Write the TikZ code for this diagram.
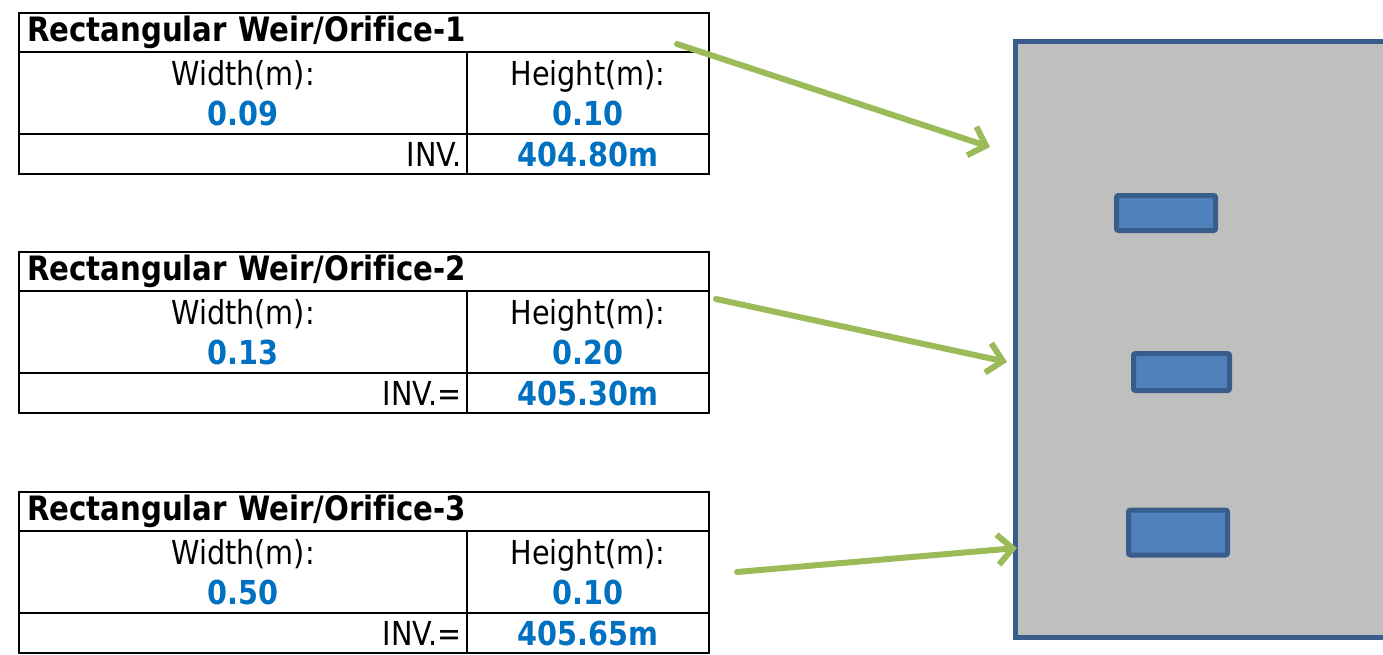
\documentclass[tikz,border=0pt]{standalone}
\usepackage{fontspec}
\setmainfont{DejaVu Sans}[FakeStretch=0.87, Ligatures=NoCommon]
\usetikzlibrary{arrows.meta,positioning}
\definecolor{valBlue}{RGB}{0,112,192}
\definecolor{plateGray}{RGB}{191,191,191}
\definecolor{edgeBlue}{RGB}{56,93,138}
\definecolor{slotBlue}{RGB}{79,129,189}
\definecolor{leafGreen}{RGB}{155,187,89}

\begin{document}
\begin{tikzpicture}[
    x=0.5pt, y=-0.5pt,
    cell/.style={
        rectangle, draw=black, line width=1.4pt, inner sep=0pt, outer sep=0pt,
        font=\fontsize{16.5}{20}\selectfont
    },
    headrow/.style={
        cell, anchor=north west, minimum width=345pt, minimum height=19.5pt,
        text width=337pt, align=left, font=\fontsize{16.8}{20}\selectfont\bfseries
    },
    sizecell/.style={cell, align=center, minimum height=41pt},
    invlabel/.style={
        cell, minimum width=224pt, minimum height=20pt,
        text width=219pt, align=right
    },
    invvalue/.style={
        cell, minimum width=121pt, minimum height=20pt,
        font=\fontsize{16.5}{20}\selectfont\bfseries, text=valBlue
    },
    plate/.style={
        rectangle, draw=edgeBlue, line width=2.5pt, fill=plateGray,
        anchor=north west, minimum width=220pt, minimum height=298pt
    },
    slot/.style={
        rectangle, rounded corners=1pt, draw=edgeBlue, line width=2.5pt,
        fill=slotBlue, minimum width=49.5pt
    },
    pointer/.style={
        -{Straight Barb[length=7.5pt, width=15pt]}, line width=3pt,
        draw=leafGreen, line cap=round
    }
]
\newcommand{\val}[1]{{\bfseries\color{valBlue}#1}}
\clip (0,0) rectangle (1383,654);

% weir / orifice 1
\node[headrow] (t1) at (19,13) {Rectangular Weir/Orifice-1};
\node[sizecell, minimum width=224pt, below right=0pt and 0pt of t1.south west] (w1) {Width(m):\\\val{0.09}};
\node[sizecell, minimum width=121pt, right=0pt of w1] (h1) {Height(m):\\\val{0.10}};
\node[invlabel, below right=0pt and 0pt of w1.south west] (i1) {INV.};
\node[invvalue, right=0pt of i1] (v1) {404.80m};

% weir / orifice 2
\node[headrow] (t2) at (19,252) {Rectangular Weir/Orifice-2};
\node[sizecell, minimum width=224pt, below right=0pt and 0pt of t2.south west] (w2) {Width(m):\\\val{0.13}};
\node[sizecell, minimum width=121pt, right=0pt of w2] (h2) {Height(m):\\\val{0.20}};
\node[invlabel, below right=0pt and 0pt of w2.south west] (i2) {INV.=};
\node[invvalue, right=0pt of i2] (v2) {405.30m};

% weir / orifice 3
\node[headrow] (t3) at (19,492) {Rectangular Weir/Orifice-3};
\node[sizecell, minimum width=224pt, below right=0pt and 0pt of t3.south west] (w3) {Width(m):\\\val{0.50}};
\node[sizecell, minimum width=121pt, right=0pt of w3] (h3) {Height(m):\\\val{0.10}};
\node[invlabel, below right=0pt and 0pt of w3.south west] (i3) {INV.=};
\node[invvalue, right=0pt of i3] (v3) {405.65m};

% wall with the openings
\node[plate] (wall) at (1013,39) {};
\node[slot, minimum height=17.5pt] (o1) at (1166,213) {};
\node[slot, minimum width=48pt, minimum height=18.5pt] (o2) at (1181.5,372) {};
\node[slot, minimum height=22.5pt] (o3) at (1178,532.5) {};

\coordinate (a1) at (677,44);
\coordinate (b1) at (990,147);
\coordinate (a2) at (716,299);
\coordinate (b2) at (1007,362);
\coordinate (a3) at (737,572);
\coordinate (b3) at (1017,548);

\draw[pointer] (a1) -- (b1);
\draw[pointer] (a2) -- (b2);
\draw[pointer] (a3) -- (b3);

\end{tikzpicture}
\end{document}
